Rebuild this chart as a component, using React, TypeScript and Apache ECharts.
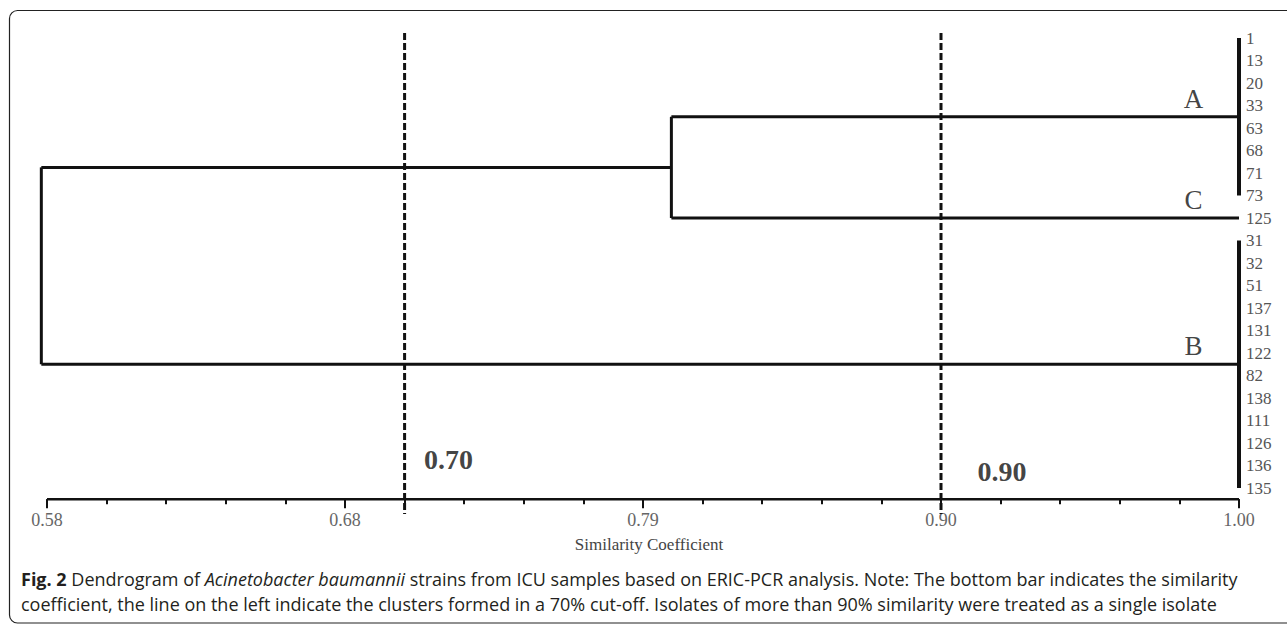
import React, { useEffect, useRef } from "react";
import * as echarts from "echarts";

// ---- data ----
const leaves = ["1", "13", "20", "33", "63", "68", "71", "73", "125", "31", "32", "51", "137", "131", "122", "82", "138", "111", "126", "136", "135"];
const clusterNames = ["A", "C", "B"];
const clusterFirstLeaf = [0, 8, 9];
const clusterLastLeaf = [7, 8, 20];
// similarity at which A and C join, and at which (A+C) joins B
const mergeACSimilarity = 0.80;
const mergeRootSimilarity = 0.578;
// cut-off lines (positions as drawn on the figure's axis) and their labels
const cutoffValues = [0.706, 0.895];
const cutoffLabels = ["0.70", "0.90"];
// axis ticks
const axisStart = 0.58;
const axisEnd = 1.0;
const majorTickValues = [0.58, 0.685, 0.79, 0.895, 1.0];
const majorTickLabels = ["0.58", "0.68", "0.79", "0.90", "1.00"];
const minorTickValues = [0.58, 0.601, 0.622, 0.643, 0.664, 0.685, 0.706, 0.727, 0.748, 0.769, 0.79, 0.811, 0.832, 0.853, 0.874, 0.895, 0.916, 0.937, 0.958, 0.979, 1.0];
const leafSimilarity = 1.0;

const SERIF = "'Liberation Serif', 'Times New Roman', serif";
const SANS = "'Open Sans', 'Noto Sans', sans-serif";

export default function App() {
  const ref = useRef<HTMLDivElement>(null);
  useEffect(() => {
    document.body.style.margin = "0";
    if (!ref.current) return;
    const chart = echarts.init(ref.current, null, { renderer: "svg" });

    const clusterRows = clusterNames.map((_, k) => (clusterFirstLeaf[k] + clusterLastLeaf[k]) / 2);
    const rowA = clusterRows[0];
    const rowC = clusterRows[1];
    const rowB = clusterRows[2];
    const rowAC = (rowA + rowC) / 2;

    const lineStyle = { color: "#111", width: 3, cap: "butt" as const };
    const seg = (name: string, data: number[][], style: any = lineStyle) => ({
      type: "line",
      name,
      symbol: "none",
      clip: false,
      lineStyle: style,
      data,
    });
    const series: any[] = [];

    // axis base line
    series.push(seg("axis", [[axisStart, 20.5], [axisEnd, 20.5]], { color: "#111", width: 2.5 }));

    // leaf bars for clusters with several leaves
    clusterNames.forEach((name, k) => {
      if (clusterLastLeaf[k] > clusterFirstLeaf[k]) {
        series.push(
          seg("bar-" + name, [
            [leafSimilarity, clusterFirstLeaf[k]],
            [leafSimilarity, clusterLastLeaf[k]],
          ], { color: "#111", width: 4 })
        );
      }
    });

    // A + C branch
    series.push(seg("A", [[leafSimilarity, rowA], [mergeACSimilarity, rowA]]));
    series.push(seg("C", [[leafSimilarity, rowC], [mergeACSimilarity, rowC]]));
    series.push(seg("AC-v", [[mergeACSimilarity, rowA], [mergeACSimilarity, rowC]]));
    // root branch
    series.push(seg("AC-h", [[mergeACSimilarity, rowAC], [mergeRootSimilarity, rowAC]]));
    series.push(seg("root-v", [[mergeRootSimilarity, rowAC], [mergeRootSimilarity, rowB]]));
    series.push(seg("B", [[mergeRootSimilarity, rowB], [leafSimilarity, rowB]]));

    // cut-off dashed lines
    cutoffValues.forEach((v, k) => {
      series.push(
        seg("cut-" + cutoffLabels[k], [[v, -0.22], [v, 21.16]], { color: "#111", width: 3, type: [7, 3] })
      );
    });

    // cut-off labels
    const cutLabelRows = [18.72, 19.25];
    const cutLabelDx = [19, 36];
    cutoffValues.forEach((v, k) => {
      series.push({
        type: "scatter",
        symbolSize: 1,
        clip: false,
        itemStyle: { color: "rgba(0,0,0,0)" },
        label: {
          show: true,
          position: "right",
          distance: 0,
          offset: [cutLabelDx[k], 0],
          formatter: cutoffLabels[k],
          fontFamily: SERIF,
          fontWeight: "bold",
          fontSize: 28,
          color: "#111",
        },
        data: [[v, cutLabelRows[k]]],
      });
    });

    // cluster labels A, C, B
    series.push({
      type: "scatter",
      symbolSize: 1,
      clip: false,
      itemStyle: { color: "rgba(0,0,0,0)" },
      label: {
        show: true,
        position: "top",
        distance: 4,
        formatter: (p: any) => clusterNames[p.dataIndex],
        fontFamily: SERIF,
        fontSize: 27,
        color: "#111",
      },
      data: clusterRows.map((r) => [0.984, r]),
    });

    const option: any = {
      animation: false,
      grid: {
        left: 32.81,
        right: 48,
        top: 26.75,
        bottom: 126.75,
        containLabel: false,
        outerBoundsMode: "none",
      },
      xAxis: [
        {
          type: "value",
          min: 0.575,
          max: 1.0,
          position: "bottom",
          axisLine: { show: false, onZero: false },
          axisTick: {
            show: true,
            customValues: majorTickValues,
            length: 9,
            lineStyle: { color: "#111", width: 2 },
          },
          axisLabel: {
            show: true,
            customValues: majorTickValues,
            hideOverlap: false,
            margin: 12,
            formatter: (v: number) => {
              const i = majorTickValues.findIndex((t) => Math.abs(t - v) < 1e-6);
              return i >= 0 ? majorTickLabels[i] : "";
            },
            fontFamily: SERIF,
            fontSize: 18,
            color: "#666",
          },
          splitLine: { show: false },
        },
        {
          type: "value",
          min: 0.575,
          max: 1.0,
          position: "bottom",
          axisLine: { show: false, onZero: false },
          axisTick: {
            show: true,
            customValues: minorTickValues,
            length: 5,
            lineStyle: { color: "#111", width: 2 },
          },
          axisLabel: { show: false },
          splitLine: { show: false },
        },
      ],
      yAxis: {
        type: "value",
        inverse: true,
        min: -0.5,
        max: 20.5,
        position: "right",
        axisLine: { show: false, onZero: false },
        axisTick: { show: false },
        splitLine: { show: false },
        axisLabel: {
          show: true,
          customValues: leaves.map((_, i) => i),
          hideOverlap: false,
          margin: 7,
          formatter: (v: number) => leaves[Math.round(v)] ?? "",
          fontFamily: SERIF,
          fontSize: 17,
          color: "#555",
        },
      },
      graphic: [
        {
          type: "rect",
          silent: true,
          shape: { x: 9.5, y: 10.5, width: 1300, height: 612.5, r: 8 },
          style: { fill: "none", stroke: "#222", lineWidth: 1.2 },
        },
        {
          type: "text",
          silent: true,
          style: {
            x: 649,
            y: 544,
            align: "center",
            verticalAlign: "middle",
            text: "Similarity Coefficient",
            fontFamily: SERIF,
            fontSize: 17,
            fill: "#444",
          },
        },
        {
          type: "text",
          silent: true,
          style: {
            x: 21,
            y: 579,
            verticalAlign: "middle",
            text: "{b|Fig. 2} Dendrogram of {i|Acinetobacter baumannii} strains from ICU samples based on ERIC-PCR analysis. Note: The bottom bar indicates the similarity",
            fontFamily: SANS,
            fontSize: 18,
            fill: "#231f20",
            rich: {
              b: { fontFamily: SANS, fontSize: 18, fontWeight: "bold", fill: "#231f20" },
              i: { fontFamily: SANS, fontSize: 18, fontStyle: "italic", fill: "#231f20" },
            },
          },
        },
        {
          type: "text",
          silent: true,
          style: {
            x: 21,
            y: 604,
            verticalAlign: "middle",
            text: "coefficient, the line on the left indicate the clusters formed in a 70% cut-off. Isolates of more than 90% similarity were treated as a single isolate",
            fontFamily: SANS,
            fontSize: 18,
            fill: "#231f20",
          },
        },
      ],
      series,
    };

    chart.setOption(option);
    return () => {
      chart.dispose();
    };
  }, []);

  return <div ref={ref} style={{ width: 1287, height: 626 }} />;
}
